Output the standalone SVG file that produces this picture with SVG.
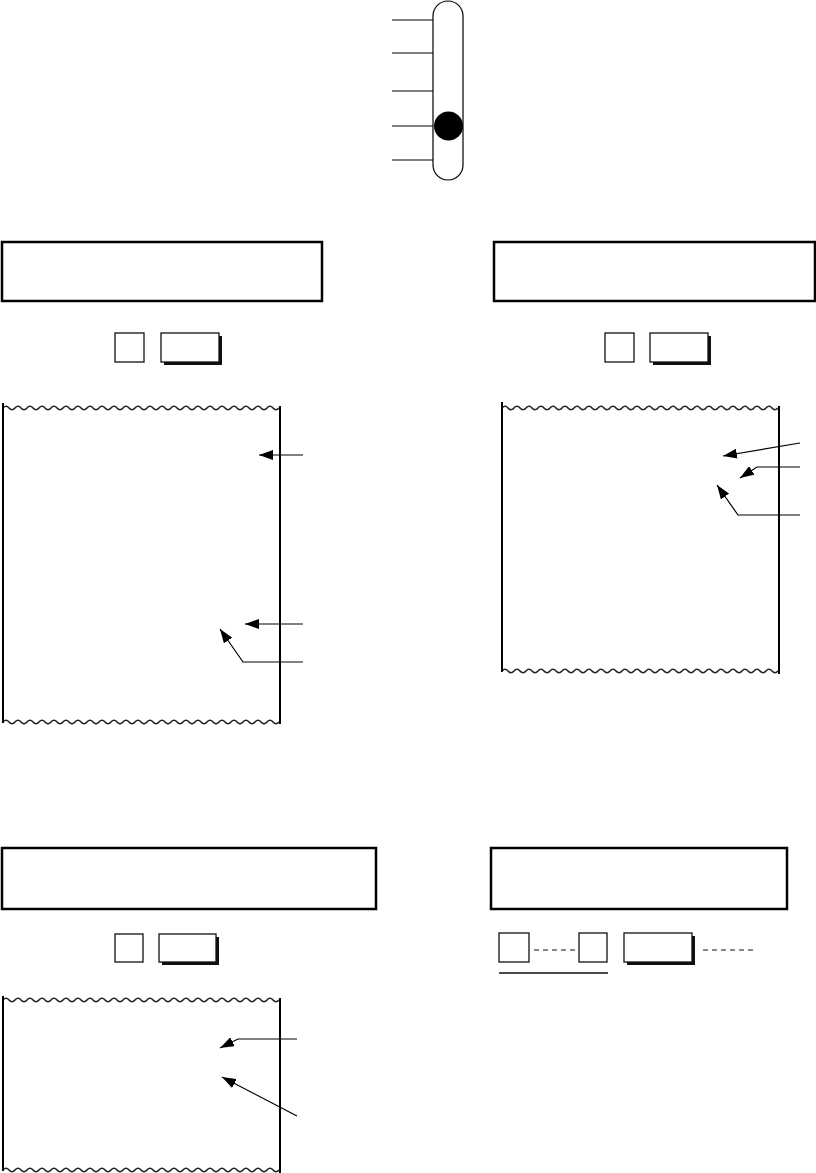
<svg xmlns="http://www.w3.org/2000/svg" xmlns:xlink="http://www.w3.org/1999/xlink" width="816" height="1173" viewBox="0 0 816 1173">
<style>
.box{fill:none;stroke:#000;stroke-width:2.5}
.sq{fill:#fff;stroke:#111;stroke-width:1.3}
.shadow{fill:#111}
.edge{stroke:#000;stroke-width:2;fill:none}
.wave{fill:none;stroke:#222;stroke-width:1.6}
.lead{fill:none;stroke:#000;stroke-width:1.2}
.dash{stroke:#888;stroke-width:1.8;stroke-dasharray:5,4;fill:none}
.tick{stroke:#000;stroke-width:1.2}
</style>
<defs>
<marker id="ah" viewBox="0 0 14 10" refX="14" refY="5" markerWidth="14" markerHeight="10" orient="auto" markerUnits="userSpaceOnUse"><path d="M0,0 L14,5 L0,10 z" fill="#000"/></marker>
<path id="wave" class="wave" d="M0,0 q3,-3.5 6,0 t6,0 t6,0 t6,0 t6,0 t6,0 t6,0 t6,0 t6,0 t6,0 t6,0 t6,0 t6,0 t6,0 t6,0 t6,0 t6,0 t6,0 t6,0 t6,0 t6,0 t6,0 t6,0 t6,0 t6,0 t6,0 t6,0 t6,0 t6,0 t6,0 t6,0 t6,0 t6,0 t6,0 t6,0 t6,0 t6,0 t6,0 t6,0 t6,0 t6,0 t6,0 t6,0 t6,0 t6,0 t6,0"/>
</defs>
<rect width="816" height="1173" fill="#fff"/>

<g id="slider">
<line class="tick" x1="392" y1="20" x2="433" y2="20"/>
<line class="tick" x1="392" y1="53" x2="433" y2="53"/>
<line class="tick" x1="392" y1="91" x2="433" y2="91"/>
<line class="tick" x1="392" y1="126" x2="433" y2="126"/>
<line class="tick" x1="392" y1="160" x2="433" y2="160"/>
<rect x="433" y="1" width="30" height="179" rx="15" ry="15" fill="none" stroke="#000" stroke-width="1.2"/>
<circle cx="448.5" cy="126" r="14.5" fill="#000"/>
</g>

<g id="display1"><rect class="box" x="2" y="242" width="320" height="59"/></g>
<g id="keys1">
<rect class="sq" x="115" y="333" width="29" height="29"/>
<rect class="shadow" x="164" y="336" width="58" height="29"/>
<rect class="sq" x="161" y="333" width="58" height="29"/>
</g>

<g id="display2"><rect class="box" x="494" y="242" width="321" height="59"/></g>
<g id="keys2">
<rect class="sq" x="605" y="333" width="29" height="29"/>
<rect class="shadow" x="653" y="336" width="58" height="29"/>
<rect class="sq" x="650" y="333" width="58" height="29"/>
</g>

<g id="paper1">
<use xlink:href="#wave" x="3" y="408"/>
<use xlink:href="#wave" x="3" y="722"/>
<line class="edge" x1="3" y1="403" x2="3" y2="723"/>
<line class="edge" x1="280" y1="406" x2="280" y2="724" stroke-width="2.5"/>
</g>

<g id="paper2">
<use xlink:href="#wave" x="502" y="408"/>
<use xlink:href="#wave" x="502" y="671"/>
<line class="edge" x1="502" y1="402" x2="502" y2="672"/>
<line class="edge" x1="779" y1="406" x2="779" y2="674" stroke-width="2.5"/>
</g>

<g id="display3"><rect class="box" x="2" y="848" width="374" height="61"/></g>
<g id="keys3">
<rect class="sq" x="115" y="934" width="28" height="28"/>
<rect class="shadow" x="162" y="937" width="57" height="28"/>
<rect class="sq" x="159" y="934" width="57" height="28"/>
</g>

<g id="display4"><rect class="box" x="491" y="848" width="296" height="61"/></g>
<g id="keys4">
<rect class="sq" x="499" y="933" width="30" height="29"/>
<rect class="sq" x="579" y="933" width="28" height="29"/>
<rect class="shadow" x="627" y="936" width="68" height="29"/>
<rect class="sq" x="624" y="933" width="68" height="29"/>
<line x1="499" y1="973" x2="608" y2="973" stroke="#111" stroke-width="1.3"/>
</g>

<g id="paper3">
<use xlink:href="#wave" x="3" y="1000"/>
<use xlink:href="#wave" x="3" y="1170"/>
<line class="edge" x1="3" y1="996" x2="3" y2="1171"/>
<line class="edge" x1="280" y1="998" x2="280" y2="1173" stroke-width="2.5"/>
</g>

<g id="connectors">
<line class="dash" x1="534" y1="950" x2="575" y2="950"/>
<line class="dash" x1="703" y1="950" x2="755" y2="950"/>
<line class="lead" x1="303" y1="455" x2="259" y2="455" marker-end="url(#ah)"/>
<line class="lead" x1="303" y1="624" x2="245" y2="624" marker-end="url(#ah)"/>
<polyline class="lead" points="303,662 243,662 220,629" marker-end="url(#ah)"/>
<line class="lead" x1="800" y1="443" x2="723" y2="456" marker-end="url(#ah)"/>
<polyline class="lead" points="800,467 757,467 740,478" marker-end="url(#ah)"/>
<polyline class="lead" points="800,515 738,515 717,485" marker-end="url(#ah)"/>
<polyline class="lead" points="297,1039 238,1039 220,1048" marker-end="url(#ah)"/>
<line class="lead" x1="297" y1="1116" x2="222" y2="1077" marker-end="url(#ah)"/>
</g>
</svg>
